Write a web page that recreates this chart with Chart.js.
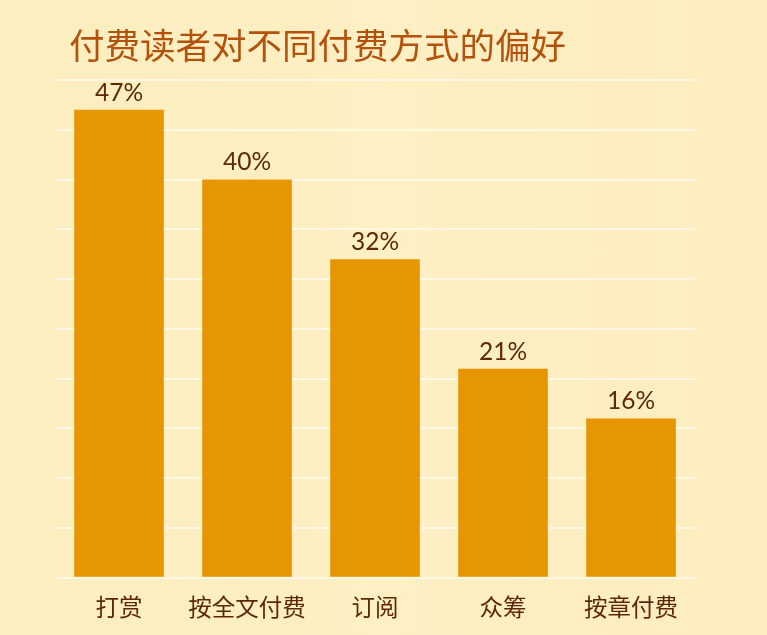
<!DOCTYPE html>
<html>
<head>
<meta charset="utf-8">
<script src="https://cdn.jsdelivr.net/npm/chart.js@4"></script>
<style>
  html, body { margin: 0; padding: 0; }
  body {
    width: 767px; height: 635px; overflow: hidden;
    background: linear-gradient(90deg, #fdeebf 0%, #feefc4 50%, #fdedbf 100%);
  }
  #wrap { position: relative; width: 767px; height: 635px; }
</style>
</head>
<body>
<div id="wrap"><canvas id="mainChart" width="767" height="635"></canvas></div>
<script>
// chart data
const titleText = "付费读者对不同付费方式的偏好";
const categories = ["打赏", "按全文付费", "订阅", "众筹", "按章付费"];
const shares = [47, 40, 32, 21, 16];

const FONT_CJK = "'Noto Sans CJK SC', 'Noto Sans', sans-serif";
const FONT_NUM = "'Lato', 'Noto Sans', sans-serif";

// title + value labels
const labelPlugin = {
  id: "labels",
  afterDraw(chart) {
    const { ctx } = chart;
    ctx.save();
    ctx.font = "35.5px " + FONT_CJK;
    ctx.fillStyle = "#b4520c";
    ctx.textAlign = "left";
    ctx.textBaseline = "middle";
    ctx.fillText(titleText, 69, 46);

    ctx.font = "24.5px " + FONT_NUM;
    ctx.fillStyle = "#5c2a08";
    ctx.textAlign = "center";
    const meta = chart.getDatasetMeta(0);
    meta.data.forEach((bar, i) => {
      ctx.fillText(shares[i] + "%", bar.x, bar.y - 17);
    });
    ctx.restore();
  }
};

const ctx = document.getElementById("mainChart").getContext("2d");
new Chart(ctx, {
  type: "bar",
  data: {
    labels: categories,
    datasets: [{
      data: shares,
      backgroundColor: "#e59600",
      borderWidth: 0,
      barPercentage: 0.7,
      categoryPercentage: 1
    }]
  },
  options: {
    responsive: false,
    animation: false,
    layout: { padding: { left: 55, right: 72, top: 80, bottom: 7 } },
    plugins: {
      legend: { display: false },
      tooltip: { enabled: false }
    },
    scales: {
      x: {
        grid: { display: false },
        border: { display: false },
        ticks: {
          padding: 7,
          color: "#5e2806",
          font: { size: 23.5, family: FONT_CJK }
        }
      },
      y: {
        min: 0,
        max: 50,
        ticks: { display: false, stepSize: 5 },
        border: { display: false },
        grid: { color: "rgba(255,248,230,0.95)", lineWidth: 2, drawTicks: false }
      }
    }
  },
  plugins: [labelPlugin]
});
</script>
</body>
</html>
